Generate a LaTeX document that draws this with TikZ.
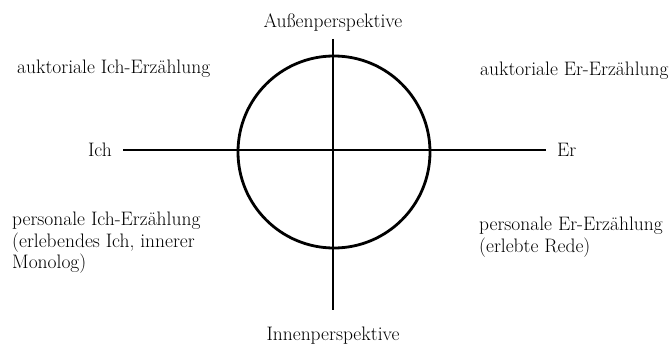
\documentclass[tikz,border=0pt]{standalone}
\usetikzlibrary{positioning}

\begin{document}
\begin{tikzpicture}[x=1pt, y=-1pt,
    achse/.style={line width=2.6pt},
    kreisrand/.style={draw, circle, line width=2.8pt, minimum size=192pt, inner sep=0pt},
    lbl/.style={font=\fontsize{19.5}{21.5}\selectfont, inner sep=0pt},
    feld/.style={lbl, align=left, anchor=north west}]
  \useasboundingbox (0,0) rectangle (672,345);

  % Kreis und Achsen
  \node[kreisrand] (kreis) at (334,152) {};
  \coordinate (oben) at (333,39);
  \coordinate (unten) at (333,310);
  \coordinate (links) at (123,150);
  \coordinate (rechts) at (546,150);
  \draw[achse] (oben) -- (unten);
  \draw[achse] (links) -- (rechts);

  % Achsenbeschriftung
  \node[lbl, above=7pt of oben] (aussen) {Au\ss enperspektive};
  \node[lbl, below=17pt of unten] (innen) {Innenperspektive};
  \node[lbl, left=11pt of links] (ich) {Ich};
  \node[lbl, right=11pt of rechts] (er) {Er};

  % Quadranten
  \node[feld] (auktich) at (17,60) {auktoriale Ich-Erz\"ahlung};
  \node[feld] (aukter) at (480,62) {auktoriale Er-Erz\"ahlung};
  \node[feld] (persich) at (12,212) {personale Ich-Erz\"ahlung\\(erlebendes Ich, innerer\\Monolog)};
  \node[feld] (perser) at (479,217) {personale Er-Erz\"ahlung\\(erlebte Rede)};
\end{tikzpicture}
\end{document}
